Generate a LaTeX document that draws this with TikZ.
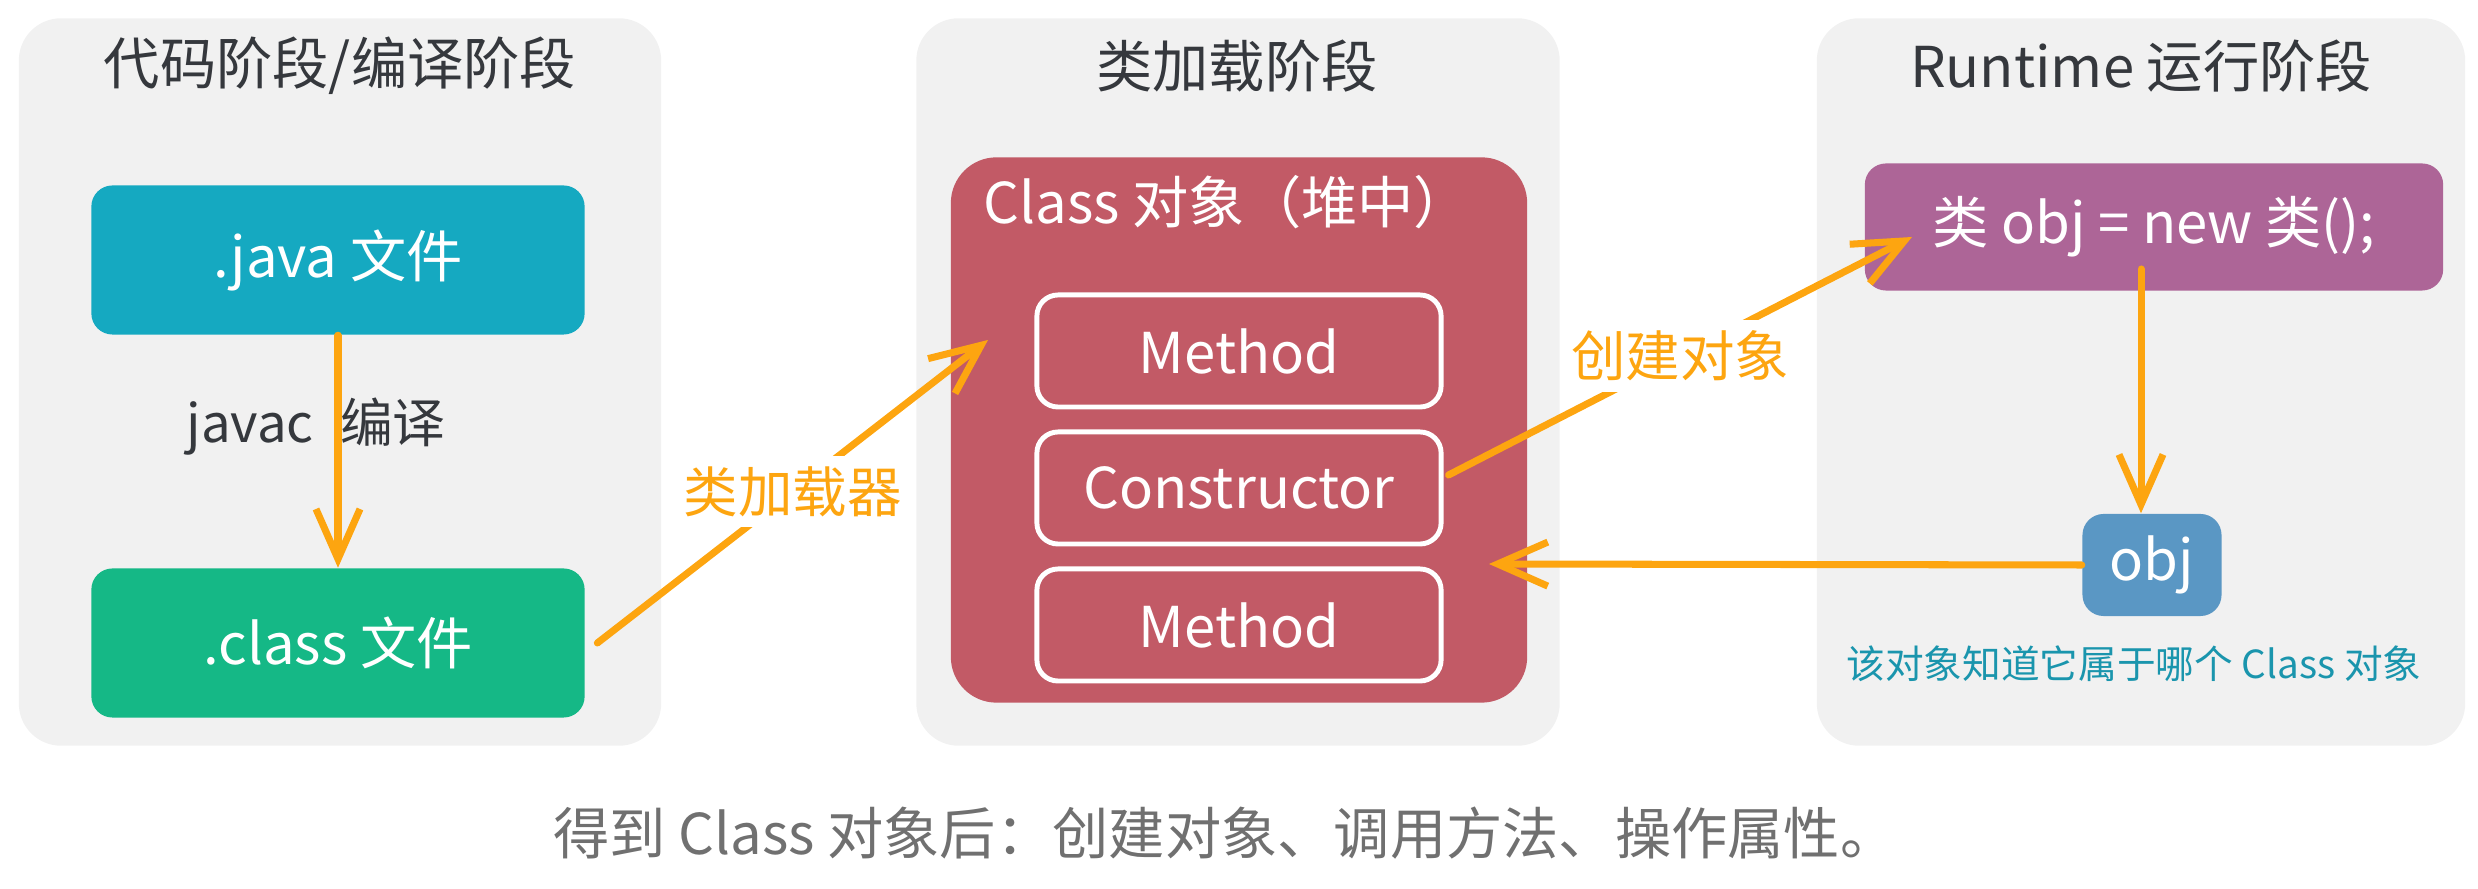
\documentclass[tikz,border=0pt]{standalone}
\usepackage{fontspec}
\newfontfamily\cjk{Noto Sans CJK SC}
\usetikzlibrary{arrows.meta,positioning}
\definecolor{clink}{HTML}{35383D}
\definecolor{clpanel}{HTML}{F1F1F1}
\definecolor{clteal}{HTML}{15A9C1}
\definecolor{clgreen}{HTML}{15B886}
\definecolor{clred}{HTML}{C25A66}
\definecolor{clpurple}{HTML}{AD6597}
\definecolor{clblue}{HTML}{5A97C4}
\definecolor{clorange}{HTML}{FDA510}
\definecolor{clnote}{HTML}{1A95AD}
\definecolor{clgray}{HTML}{707070}
\tikzset{
  cl text/.style={font=\cjk\fontsize{15pt}{18pt}\selectfont, text=clink},
  cl panel/.style={fill=clpanel, rounded corners=12pt, inner sep=0pt},
  cl title/.style={font=\cjk\fontsize{16pt}{19pt}\selectfont, text=clink},
  cl box/.style={rounded corners=6pt, inner sep=0pt, text=white, align=center,
    font=\cjk\fontsize{16pt}{19pt}\selectfont},
  cl part/.style={cl box, draw=white, line width=1.4pt, fill=clred,
    minimum width=4.04cm, minimum height=1.12cm},
  cl arrow/.style={-{Straight Barb[length=5mm,width=4.4mm]}, line width=2pt,
    draw=clorange, line cap=round, line join=round},
  cl label/.style={font=\cjk\fontsize{15.5pt}{18pt}\selectfont, text=clorange,
    fill=white, inner sep=3pt},
  cl note/.style={font=\cjk\fontsize{11pt}{13pt}\selectfont, text=clnote},
  cl caption/.style={font=\cjk\fontsize{16pt}{19pt}\selectfont, text=clgray}
}
\begin{document}
\begin{tikzpicture}[cl text, x=0.01cm, y=-0.01cm]
  \useasboundingbox (0,0) rectangle (2478,889);
  % three stages
  \node[cl panel, minimum width=6.42cm, minimum height=7.27cm] (codepanel) at (340,382) {};
  \node[cl panel, minimum width=6.43cm, minimum height=7.27cm] (loadpanel) at (1238,382) {};
  \node[cl panel, minimum width=6.48cm, minimum height=7.27cm] (runpanel) at (2141,382) {};
  \node[cl title] (codetitle) at (340,66) {代码阶段/编译阶段};
  \node[cl title] (loadtitle) at (1237,66) {类加载阶段};
  \node[cl title] (runtitle) at (2141,66) {Runtime 运行阶段};

  % code stage
  \node[cl box, fill=clteal, minimum width=4.93cm, minimum height=1.49cm] (java) at (338,260) {.java 文件};
  \node[cl box, fill=clgreen, minimum width=4.93cm, minimum height=1.49cm] (cls) at (338,643) {.class 文件};
  \node[cl text] (javac) at (316,427) {javac\enspace 编译};
  \draw[cl arrow] (java.south) -- (cls.north);

  % class loading
  \node[cl box, fill=clred, rounded corners=13pt, minimum width=5.76cm, minimum height=5.45cm] (clsobj) at (1239,430) {};
  \node[cl box, anchor=west] (clsobjtitle) at (983,202) {Class 对象（堆中）};
  \node[cl part] (method1) at (1239,351) {Method};
  \node[cl part, below=0.2cm of method1] (ctor) {Constructor};
  \node[cl part, below=0.2cm of ctor] (method2) {Method};
  \coordinate (loadin) at (988,340);
  \draw[cl arrow] ([xshift=0.12cm]cls.east) -- node[cl label] {类加载器} (loadin);

  % runtime
  \node[cl box, fill=clpurple, minimum width=5.78cm, minimum height=1.27cm] (newobj) at (2154,227) {类 obj = new 类();};
  \node[cl box, fill=clblue, minimum width=1.39cm, minimum height=1.02cm] (obj) at (2152,565) {obj};
  \node[cl note] (note) at (2134,664) {该对象知道它属于哪个 Class 对象};
  \coordinate (newin) at (1912,237);
  \coordinate (runout) at (2141,269);
  \coordinate (objin) at (1489,564);
  \draw[cl arrow] ([shift={(5,-13)}]ctor.east) -- node[cl label] {创建对象} (newin);
  \draw[cl arrow] (runout) -- (runout |- obj.north);
  \draw[cl arrow] (obj.west) -- (objin);

  \node[cl caption] (caption) at (1225,833) {得到 Class 对象后：创建对象、调用方法、操作属性。};
\end{tikzpicture}
\end{document}
